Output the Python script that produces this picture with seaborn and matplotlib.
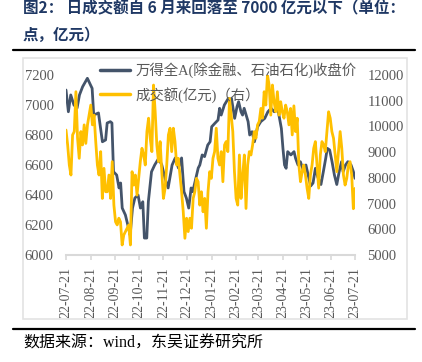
import numpy as np
import pandas as pd
import matplotlib
matplotlib.use("Agg")
import matplotlib.pyplot as plt
import seaborn as sns
from matplotlib.patches import Rectangle
from matplotlib.lines import Line2D
from matplotlib.font_manager import FontProperties

# ---------------- data ----------------
index_dates = [
    "2022-07-21", "2022-07-24", "2022-07-27", "2022-07-31", "2022-08-04", "2022-08-07",
    "2022-08-11", "2022-08-17", "2022-08-21", "2022-08-23", "2022-08-25", "2022-08-31",
    "2022-09-05", "2022-09-09", "2022-09-11", "2022-09-15", "2022-09-17", "2022-09-19",
    "2022-09-23", "2022-09-26", "2022-09-28", "2022-09-30", "2022-10-04", "2022-10-08",
    "2022-10-10", "2022-10-13", "2022-10-16", "2022-10-20", "2022-10-23", "2022-10-26",
    "2022-10-28", "2022-10-31", "2022-11-02", "2022-11-06", "2022-11-10", "2022-11-15",
    "2022-11-19", "2022-11-23", "2022-11-27", "2022-12-02", "2022-12-06", "2022-12-10",
    "2022-12-14", "2022-12-17", "2022-12-20", "2022-12-23", "2022-12-26", "2022-12-28",
    "2022-12-31", "2023-01-04", "2023-01-06", "2023-01-09", "2023-01-12", "2023-01-16",
    "2023-01-19", "2023-01-21", "2023-01-25", "2023-01-29", "2023-01-31", "2023-02-02",
    "2023-02-06", "2023-02-11", "2023-02-13", "2023-02-15", "2023-02-19", "2023-02-22",
    "2023-02-24", "2023-02-27", "2023-03-01", "2023-03-03", "2023-03-08", "2023-03-10",
    "2023-03-13", "2023-03-16", "2023-03-20", "2023-03-24", "2023-03-29", "2023-04-02",
    "2023-04-06", "2023-04-10", "2023-04-14", "2023-04-19", "2023-04-21", "2023-04-23",
    "2023-04-25", "2023-04-27", "2023-05-01", "2023-05-05", "2023-05-07", "2023-05-10",
    "2023-05-13", "2023-05-17", "2023-05-20", "2023-05-23", "2023-05-26", "2023-05-29",
    "2023-06-01", "2023-06-04", "2023-06-08", "2023-06-11", "2023-06-14", "2023-06-16",
    "2023-06-19", "2023-06-22", "2023-06-25", "2023-06-28", "2023-07-01", "2023-07-04",
    "2023-07-06", "2023-07-09", "2023-07-12", "2023-07-16", "2023-07-19", "2023-07-21",
]
index_close = [
    7100, 6955, 7067, 7000, 6980, 7067,
    7122, 7178, 7133, 7111, 6933, 6947,
    6755, 6767, 6880, 6889, 6880, 6555,
    6533, 6447, 6480, 6313, 6267, 6180,
    6133, 6313, 6380, 6400, 6313, 6355,
    6113, 6113, 6355, 6555, 6600, 6644,
    6600, 6513, 6447, 6600, 6647, 6580,
    6647, 6422, 6380, 6313, 6447, 6422,
    6489, 6580, 6600, 6667, 6656, 6733,
    6755, 6855, 6878, 6900, 6978, 6933,
    7000, 7044, 7022, 7044, 6911, 6989,
    7022, 6955, 6933, 6978, 6889, 6800,
    6822, 6755, 6855, 6889, 6911, 6955,
    6978, 6955, 6989, 6844, 6711, 6600,
    6578, 6689, 6667, 6689, 6644, 6600,
    6622, 6560, 6600, 6530, 6460, 6480,
    6578, 6520, 6470, 6555, 6644, 6711,
    6700, 6622, 6533, 6470, 6555, 6622,
    6555, 6600, 6622, 6600, 6555, 6511,
]

turnover_start = "2022-07-21"
turnover_end = "2023-07-21"
turnover = [
    9860, 9280, 8500, 8110, 9670, 9800, 11350, 9540, 8760, 9800, 9280, 10060, 9340, 10060,
    10440, 10830, 10060, 10440, 9410, 8500, 8110, 9020, 7200, 8370, 7460, 7460, 8110, 7200,
    8630, 6940, 6290, 6170, 6430, 6290, 5390,
    5780, 5910, 6040, 6170, 5390, 8240, 7720, 8110, 7330, 7980, 8630, 9150, 8890, 8500,
    9800, 10320, 9540, 9020, 11610, 10570, 9280, 8630, 9410, 8240, 7200, 7590, 8500, 9670,
    9930, 9020, 9930, 9410, 8500,
    8760, 8110, 7460, 6680, 5650, 6430, 5910, 6430, 6040, 7200, 7460, 7980, 7850, 6940,
    7460, 6680, 7200, 6040, 7460, 8240, 7980, 8760, 9020, 9930, 8760, 8500, 9020, 7850,
    9280, 9410, 9020, 11090, 10440, 9800, 8240,
    7200, 6940, 8890, 7200, 8110, 8890, 6810, 8500, 9020, 8890, 9280, 9800, 9540, 10060,
    10190, 10700, 10320, 11350, 10830, 12000, 11610, 10440, 11610, 10960, 10570, 11350,
    10440, 10960, 10570, 10320, 10830, 10570, 10060, 10700, 9670,
    10800,
    9800, 10320, 8500, 7850, 8240, 8500, 8110, 7590, 7200, 8110, 8500, 9150, 9410, 8500,
    7600, 8890, 9410, 9280, 9020, 9800, 10570, 10320, 9800, 9540, 8890, 8240, 9020, 9800,
    9150, 8110, 7720, 7980, 8500, 8630, 8110, 6800, 7590,
]

x_tick_labels = ["22-07-21", "22-08-21", "22-09-21", "22-10-21", "22-11-21", "22-12-21",
                 "23-01-21", "23-02-21", "23-03-21", "23-04-21", "23-05-21", "23-06-21",
                 "23-07-21"]
left_ticks = [6000, 6200, 6400, 6600, 6800, 7000, 7200]
right_ticks = [5000, 6000, 7000, 8000, 9000, 10000, 11000, 12000]

label_index = "万得全A(除金融、石油石化)收盘价"
label_turnover = "成交额(亿元)（右）"
title_line1 = "图2： 日成交额自 6 月来回落至 7000 亿元以下（单位："
title_line2 = "点，亿元）"
source_text = "数据来源：wind，东吴证券研究所"

# ---------------- style ----------------
sns.set_style("white")
plt.rcParams["font.family"] = ["Liberation Serif", "Noto Sans CJK SC", "DejaVu Sans"]

C_INDEX = "#44546A"
C_TURN = "#FFC000"
C_TEXT = "#595959"
C_AXIS = "#D9D9D9"

W, H = 422, 362
fig = plt.figure(figsize=(W / 100, H / 100), dpi=100)

def fx(px):
    return px / W

def fy(py):
    return 1 - py / H

# outer chart border
fig.patches.append(Rectangle((fx(22.5), fy(318.5)), fx(406.5) - fx(22.5), fy(58) - fy(318.5),
                             transform=fig.transFigure, fill=False, edgecolor="#E3E3E3",
                             linewidth=1.2, zorder=0))
# black rules
fig.add_artist(Line2D([fx(13), fx(415)], [fy(50), fy(50)], color="black", lw=1.6,
                      transform=fig.transFigure))
fig.add_artist(Line2D([fx(13), fx(415)], [fy(328.5), fy(328.5)], color="black", lw=1.6,
                      transform=fig.transFigure))

ax = fig.add_axes([fx(66), fy(255), fx(355) - fx(66), fy(75) - fy(255)])
ax2 = ax.twinx()

df_idx = pd.DataFrame({"date": pd.to_datetime(index_dates), "value": index_close})
df_turn = pd.DataFrame({"date": pd.date_range(turnover_start, turnover_end, periods=len(turnover)),
                        "value": turnover})

sns.lineplot(data=df_idx, x="date", y="value", ax=ax, color=C_INDEX, lw=2.0, legend=False)
sns.lineplot(data=df_turn, x="date", y="value", ax=ax2, color=C_TURN, lw=2.0, legend=False)

tick_dates = pd.to_datetime(x_tick_labels, format="%y-%m-%d")
ax.set_xlim(tick_dates[0], tick_dates[-1])
ax.set_xticks(tick_dates)
ax.set_xticklabels(x_tick_labels, rotation=90, fontsize=10, color=C_TEXT,
                   family="Liberation Serif")

ax.set_ylim(6000, 7200)
ax.set_yticks(left_ticks)
ax.set_yticklabels([str(v) for v in left_ticks], fontsize=10.5, color=C_TEXT,
                   family="Liberation Serif")
ax2.set_ylim(5000, 12000)
ax2.set_yticks(right_ticks)
ax2.set_yticklabels([str(v) for v in right_ticks], fontsize=10.5, color=C_TEXT,
                    family="Liberation Serif")

for a in (ax, ax2):
    a.set_xlabel("")
    a.set_ylabel("")
    a.grid(False)
    for s in a.spines.values():
        s.set_visible(False)
ax.spines["bottom"].set_visible(True)
ax.spines["bottom"].set_color(C_AXIS)
ax.spines["bottom"].set_linewidth(1.5)

ax.tick_params(axis="x", direction="out", length=3.5, width=1.2, color=C_AXIS, pad=5,
               bottom=True)
ax.tick_params(axis="y", length=0, pad=9)
ax2.tick_params(axis="y", length=0, pad=9)

# legend
leg_font = FontProperties(family=["Liberation Serif", "Noto Sans CJK SC"], size=10.4)
handles = [Line2D([], [], color=C_INDEX, lw=2.5), Line2D([], [], color=C_TURN, lw=2.5)]
fig.legend(handles, [label_index, label_turnover], loc="upper left",
           bbox_to_anchor=(fx(100), fy(62)), frameon=False, handlelength=2.1,
           handletextpad=0.35, labelspacing=0.6, borderpad=0, borderaxespad=0,
           prop=leg_font, labelcolor=C_TEXT)

# title
title_kw = dict(ha="left", va="center", fontsize=11.2, fontweight="bold", color="#1F3864",
                family=["Noto Sans CJK SC", "DejaVu Sans"])
fig.text(fx(23), fy(8), title_line1, **title_kw)
fig.text(fx(23), fy(35), title_line2, **title_kw)

# source
fig.text(fx(23), fy(344), source_text, ha="left", va="center", fontsize=11.5, color="black",
         family=["Liberation Serif", "Noto Sans CJK SC"])

fig.savefig("out.png", dpi=100)
